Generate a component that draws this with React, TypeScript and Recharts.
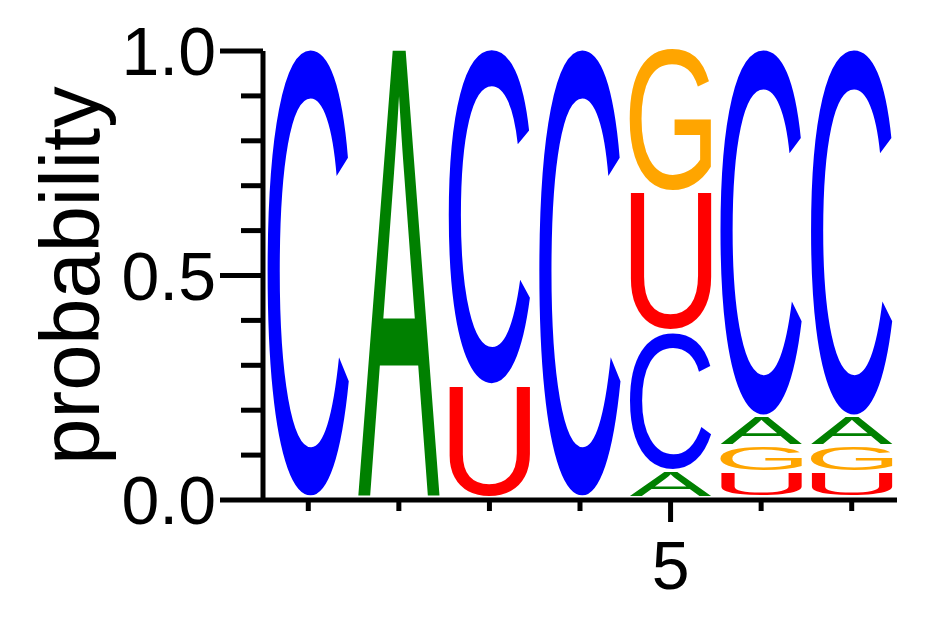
import React from 'react';
import { BarChart, Bar, XAxis, YAxis } from 'recharts';

// ---- data ----
const positions = ['1', '2', '3', '4', '5', '6', '7'];
const letters = ['A', 'C', 'G', 'U'];
const probA = [0, 1, 0, 0, 0.06, 0.065, 0.065];
const probC = [1, 0, 0.75, 1, 0.31, 0.82, 0.82];
const probG = [0, 0, 0, 0, 0.32, 0.06, 0.06];
const probU = [0, 0, 0.25, 0, 0.31, 0.055, 0.055];
const yTicks = [0, 0.1, 0.2, 0.3, 0.4, 0.5, 0.6, 0.7, 0.8, 0.9, 1.0];
const yMajorTicks = [0, 0.5, 1.0];
const xLabeledTicks = ['5'];

const letterColors: Record<string, string> = {
  A: '#008000',
  C: '#0000FF',
  G: '#FFA500',
  U: '#FF0000',
};

const FONT = "'Liberation Sans', Arial, Helvetica, sans-serif";

// build stacked table: slots sorted ascending (smallest at bottom)
const probs: Record<string, number[]> = { A: probA, C: probC, G: probG, U: probU };
const tableData = positions.map((pos, i) => {
  const entries = letters.map((l) => ({ l, v: probs[l][i] }));
  const sorted = [...entries].sort((a, b) => a.v - b.v);
  const row: any = { pos };
  sorted.forEach((e, k) => {
    row[`s${k}`] = e.v;
    row[`l${k}`] = e.l;
  });
  return row;
});

// glyph ink metrics (em units) measured via canvas with fallback
const fallback: Record<string, { x0: number; x1: number; asc: number; desc: number }> = {
  A: { x0: 0, x1: 0.668, asc: 0.716, desc: 0 },
  C: { x0: 0.049, x1: 0.676, asc: 0.728, desc: 0.012 },
  G: { x0: 0.055, x1: 0.716, asc: 0.728, desc: 0.012 },
  U: { x0: 0.079, x1: 0.642, asc: 0.716, desc: 0.012 },
};
const metricCache: Record<string, { x0: number; x1: number; asc: number; desc: number }> = {};
function getMetrics(letter: string) {
  if (metricCache[letter]) return metricCache[letter];
  let m = fallback[letter];
  try {
    const c = document.createElement('canvas');
    const ctx = c.getContext('2d');
    if (ctx) {
      ctx.font = `100px ${FONT}`;
      const t = ctx.measureText(letter);
      if (t.actualBoundingBoxAscent > 0) {
        m = {
          x0: -t.actualBoundingBoxLeft / 100,
          x1: t.actualBoundingBoxRight / 100,
          asc: t.actualBoundingBoxAscent / 100,
          desc: t.actualBoundingBoxDescent / 100,
        };
      }
    }
  } catch (e) {
    // ignore
  }
  metricCache[letter] = m;
  return m;
}

const PAD = 1.5;
const DY = -3;

const makeLetterShape = (slot: number) => (props: any) => {
  const { x, y, width, height, payload } = props;
  const letter = payload ? payload[`l${slot}`] : undefined;
  if (!letter || !height || height <= PAD * 2 + 0.5) return <g />;
  const m = getMetrics(letter);
  const F = 100;
  const sx = width / ((m.x1 - m.x0) * F);
  const sy = (height - PAD * 2) / ((m.asc + m.desc) * F);
  const tx = x - m.x0 * F * sx;
  const ty = y + DY + PAD + m.asc * F * sy;
  return (
    <text
      transform={`translate(${tx},${ty}) scale(${sx},${sy})`}
      x={0}
      y={0}
      fontSize={F}
      fontFamily={FONT}
      fill={letterColors[letter]}
    >
      {letter}
    </text>
  );
};

const YTick = (props: any) => {
  const { x, y, payload } = props;
  const v = payload.value as number;
  const major = yMajorTicks.some((t) => Math.abs(t - v) < 1e-6);
  const len = major ? 43 : 22;
  return (
    <g>
      <line x1={x - len} x2={x} y1={y} y2={y} stroke="#000" strokeWidth={5} />
      {major && (
        <text x={x - 47} y={y + 24.3} textAnchor="end" fontSize={68} fontFamily={FONT} fill="#000">
          {v.toFixed(1)}
        </text>
      )}
    </g>
  );
};

const XTick = (props: any) => {
  const { x, y, payload } = props;
  const major = xLabeledTicks.includes(String(payload.value));
  const len = major ? 22 : 11;
  return (
    <g>
      <line x1={x} x2={x} y1={y} y2={y + len} stroke="#000" strokeWidth={5} />
      {major && (
        <text x={x} y={y + 89} textAnchor="middle" fontSize={68} fontFamily={FONT} fill="#000">
          {payload.value}
        </text>
      )}
    </g>
  );
};

const YLabel = (props: any) => {
  const vb = props.viewBox || { x: 0, y: 51, width: 263, height: 449 };
  const cx = (vb.x || 0) + 99;
  const cy = vb.y + vb.height / 2;
  return (
    <text
      x={cx}
      y={cy}
      transform={`rotate(-90, ${cx}, ${cy})`}
      textAnchor="middle"
      fontSize={83}
      fontFamily={FONT}
      fill="#000"
    >
      probability
    </text>
  );
};

export default function App() {
  return (
    <div style={{ position: 'absolute', left: 0, top: 0, width: 942, height: 617, background: '#fff' }}>
      <BarChart
        width={942}
        height={617}
        data={tableData}
        margin={{ top: 51, right: 45, bottom: 37, left: 0 }}
        barCategoryGap="5%"
      >
        <XAxis
          dataKey="pos"
          height={80}
          interval={0}
          tickSize={0}
          tickMargin={0}
          tickLine={false}
          axisLine={{ stroke: '#000', strokeWidth: 5 }}
          tick={<XTick />}
        />
        <YAxis
          type="number"
          domain={[0, 1]}
          ticks={yTicks}
          width={263}
          tickSize={0}
          tickMargin={0}
          tickLine={false}
          axisLine={{ stroke: '#000', strokeWidth: 5 }}
          tick={<YTick />}
          label={<YLabel />}
        />
        {[0, 1, 2, 3].map((k) => (
          <Bar
            key={k}
            dataKey={`s${k}`}
            stackId="logo"
            isAnimationActive={false}
            shape={makeLetterShape(k)}
          />
        ))}
      </BarChart>
    </div>
  );
}
